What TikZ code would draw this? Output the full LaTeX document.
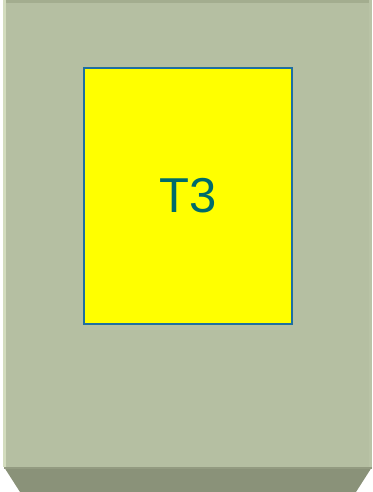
\documentclass[tikz,border=0pt]{standalone}
\usepackage{fontspec}
\setmainfont{Liberation Sans}
\definecolor{panel}{HTML}{B5BFA2}
\definecolor{bevel}{HTML}{8A9279}
\definecolor{topedge}{HTML}{A3AD8F}
\definecolor{leftedge}{HTML}{D3DCBE}
\definecolor{boxline}{HTML}{1F6FA0}
\definecolor{txt}{HTML}{006B6B}
\definecolor{boxfill}{HTML}{FFFF00}
\begin{document}
\begin{tikzpicture}[x=1pt,y=-1pt,
  box/.style={draw=boxline,line width=1.5pt,fill=boxfill,minimum width=208pt,minimum height=256pt,inner sep=0pt,
    text=txt,font=\fontsize{49}{49}\selectfont}]
\useasboundingbox (0,0) rectangle (372,492);
\fill[white] (0,0) rectangle (372,492);
% panel
\fill[panel] (3,0) rectangle (372,467);
\fill[topedge] (3,0) rectangle (372,3);
\fill[leftedge] (3,0) rectangle (6,467);
\fill[panel!85!leftedge] (369,0) rectangle (372,467);
% bottom bevel
\fill[bevel] (4,467) -- (372,467) -- (356,492) -- (20,492) -- cycle;
\fill[bevel!80!panel] (4,467) rectangle (372,469);
% inner box
\node[box] (t3) at (188,196) {T3};
\end{tikzpicture}
\end{document}
